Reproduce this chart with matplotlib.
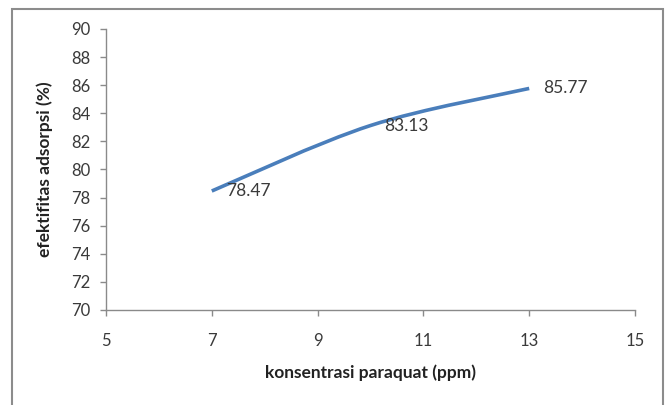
import matplotlib.pyplot as plt
import numpy as np
from matplotlib.patches import Rectangle
from matplotlib.path import Path
from matplotlib.patches import PathPatch

# konsentrasi paraquat (ppm) vs efektifitas adsorpsi (%)
konsentrasi = [7, 10, 13]
efektifitas = [78.47, 83.13, 85.77]
label_nilai = ["78.47", "83.13", "85.77"]
xticks = [5, 7, 9, 11, 13, 15]
yticks = [70, 72, 74, 76, 78, 80, 82, 84, 86, 88, 90]

LINE = "#4A7EBB"
AXIS = "#8a8a8a"
TEXT = "#3a3a3a"

plt.rcParams['font.family'] = ['Lato', 'DejaVu Sans']


def smooth_path(xs, ys):
    """Kurva bezier halus melewati semua titik (gaya garis halus Excel)"""
    pts = np.column_stack([xs, ys]).astype(float)
    n = len(pts)
    verts = [pts[0]]
    codes = [Path.MOVETO]
    for i in range(n - 1):
        p0 = pts[i - 1] if i > 0 else pts[i]
        p1 = pts[i]
        p2 = pts[i + 1]
        p3 = pts[i + 2] if i + 2 < n else pts[i + 1]
        c1 = p1 + (p2 - p0) / 6.0
        c2 = p2 - (p3 - p1) / 6.0
        verts += [c1, c2, p2]
        codes += [Path.CURVE4] * 3
    return Path(verts, codes)


fig = plt.figure(figsize=(6.69, 4.05), dpi=100)
fig.patch.set_facecolor("white")

# bingkai area grafik
fig.patches.append(Rectangle((12 / 669, -0.05), (663 - 12) / 669, 1.05 - 9 / 405,
                             transform=fig.transFigure, fill=False,
                             edgecolor="#8c8c8c", linewidth=1.5))

ax = fig.add_axes([106 / 669, 1 - 310 / 405, (635 - 106) / 669, (310 - 29) / 405])
ax.set_xlim(5, 15)
ax.set_ylim(70, 90)
ax.set_xticks(xticks)
ax.set_yticks(yticks)

ax.add_patch(PathPatch(smooth_path(konsentrasi, efektifitas), fill=False,
                       edgecolor=LINE, linewidth=2.6, capstyle='butt'))

for x, y, t in zip(konsentrasi, efektifitas, label_nilai):
    ax.annotate(t, (x, y), xytext=(10, 0), textcoords="offset points",
                ha="left", va="center", fontsize=12.5, color=TEXT)

for s in ["top", "right"]:
    ax.spines[s].set_visible(False)
for s in ["left", "bottom"]:
    ax.spines[s].set_color(AXIS)
    ax.spines[s].set_linewidth(1.0)

ax.tick_params(axis="both", colors=AXIS, labelcolor=TEXT, labelsize=12,
               length=4.5, width=1.0, direction="out")
ax.tick_params(axis="x", pad=12)
ax.tick_params(axis="y", pad=7)

ax.set_xlabel("konsentrasi paraquat (ppm)", fontsize=12.5, fontweight="bold",
              color="#222222", labelpad=11)
ax.set_ylabel("efektifitas adsorpsi (%)", fontsize=12.5, fontweight="bold",
              color="#222222", labelpad=13)

fig.savefig("out.png", dpi=100, facecolor="white")
